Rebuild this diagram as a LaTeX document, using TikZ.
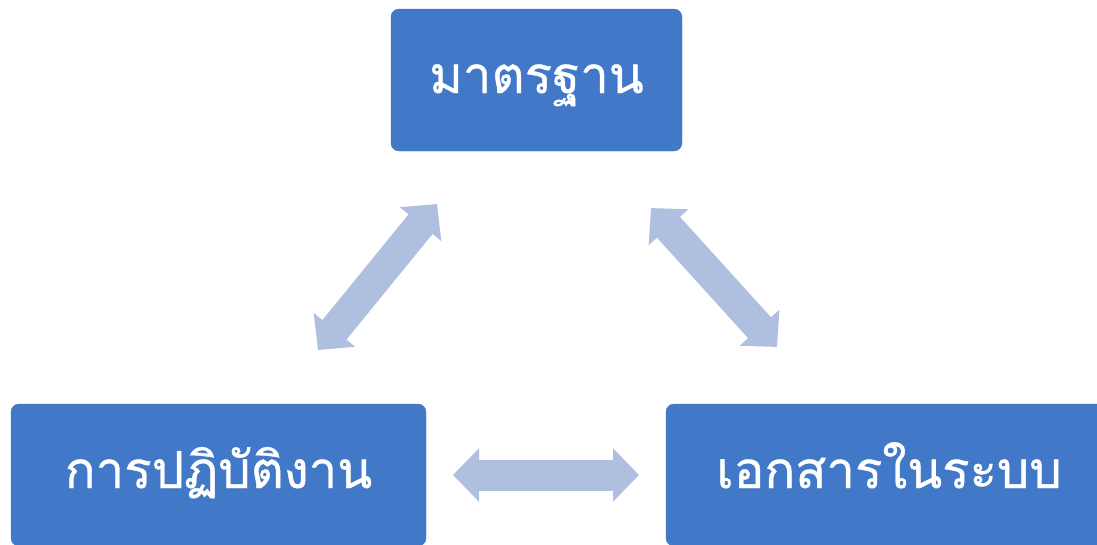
\documentclass[tikz,border=0pt]{standalone}
\usepackage{fontspec}
\newfontfamily\thaifont[Script=Thai,FakeBold=0.8]{Loma}
\usetikzlibrary{arrows.meta}
\definecolor{boxc}{HTML}{4179C8}
\definecolor{arrowc}{HTML}{AFBFE0}
\tikzset{
  boxnode/.style={fill=boxc, draw=boxc, rounded corners=8pt, inner sep=0pt,
    minimum height=142pt, text height=84pt, text depth=58pt, text=white,
    font=\thaifont\fontsize{51}{59}\selectfont},
  dblarrow/.style={draw=arrowc, line width=31pt,
    {Triangle[width=52pt,length=26pt]}-{Triangle[width=52pt,length=26pt]}}
}
\begin{document}
\begin{tikzpicture}[x=1pt,y=-1pt]
\useasboundingbox (0,0) rectangle (1097,544);
\node[boxnode, minimum width=291pt] (std) at (536.5,80) {มาตรฐาน};
\node[boxnode, minimum width=415pt] (work) at (218.5,475) {การปฏิบัติงาน};
\node[boxnode, minimum width=446pt] (doc) at (889,475) {เอกสารในระบบ};
\coordinate (l1) at (318,350);
\coordinate (l2) at (437,204);
\coordinate (r1) at (651,208);
\coordinate (r2) at (777,347);
\coordinate (h1) at (453,475);
\coordinate (h2) at (639,475);
\draw[dblarrow] (l1) -- (l2);
\draw[dblarrow] (r1) -- (r2);
\draw[dblarrow] (h1) -- (h2);
\end{tikzpicture}
\end{document}
